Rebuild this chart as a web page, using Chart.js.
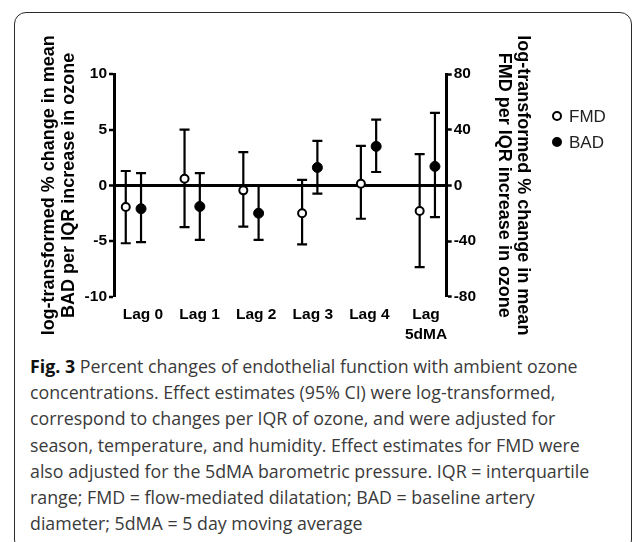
<!DOCTYPE html>
<html>
<head>
<meta charset="utf-8">
<script src="https://cdn.jsdelivr.net/npm/chart.js@4.4.1/dist/chart.umd.min.js"></script>
<style>
    html, body { margin: 0; padding: 0; background: #fff; }
    body { width: 635px; height: 542px; position: relative; overflow: hidden; }
    .frame {
        position: absolute; left: 14px; top: 12px; width: 618px; height: 540px;
        border: 1.5px solid #2a2a2a; border-radius: 12px; box-sizing: border-box;
    }
    #chart { position: absolute; left: 0; top: 0; }
    .legend { position: absolute; left: 552px; top: 104px; font: 17px "Liberation Sans", Arial, sans-serif; color: #222; }
    .legend div { height: 26px; line-height: 26px; white-space: nowrap; }
    .legend span.dot {
        display: inline-block; width: 6px; height: 6px; border-radius: 50%;
        border: 2px solid #000; margin-right: 7px; vertical-align: middle; position: relative; top: -2px;
    }
    .caption {
        position: absolute; left: 30px; top: 353px; width: 600px;
        font: 17.8px "Open Sans", sans-serif; line-height: 26.2px; color: #3a3a3a; white-space: nowrap;
    }
    .caption b { color: #111; }
</style>
</head>
<body>
<div class="frame"></div>
<canvas id="chart" width="635" height="345"></canvas>
<div class="legend" id="legend"></div>
<div class="caption">
    <b>Fig. 3</b> Percent changes of endothelial function with ambient ozone<br>
    concentrations. Effect estimates (95% CI) were log-transformed,<br>
    correspond to changes per IQR of ozone, and were adjusted for<br>
    season, temperature, and humidity. Effect estimates for FMD were<br>
    also adjusted for the 5dMA barometric pressure. IQR = interquartile<br>
    range; FMD = flow-mediated dilatation; BAD = baseline artery<br>
    diameter; 5dMA = 5 day moving average
</div>
<script>
// 数据
const lagLabels = ['Lag 0', 'Lag 1', 'Lag 2', 'Lag 3', 'Lag 4', ['Lag', '5dMA']];

// FMD (right axis, %)
const fmdEstimate = [-15.6, 4.8, -3.6, -20, 1.2, -18.4];
const fmdUpper = [10.3, 40, 23.8, 4, 28.3, 22.4];
const fmdLower = [-41.6, -30, -29.6, -42.4, -24, -58.8];

// BAD (left axis, %)
const badEstimate = [-2.1, -1.9, -2.5, 1.6, 3.5, 1.7];
const badUpper = [1.1, 1.1, 0, 4.0, 5.9, 6.5];
const badLower = [-5.1, -4.9, -4.9, -0.75, 1.2, -2.85];

const leftTicks = [-10, -5, 0, 5, 10];
const rightTicks = [-80, -40, 0, 40, 80];

const pairOffset = 0.13;
const FONT = '"Liberation Sans", Arial, sans-serif';

function toPoints(values, shift) {
    return values.map((v, i) => ({ x: i + shift, y: v }));
}

// 误差线插件
const errorBars = {
    id: 'errorBars',
    beforeDatasetsDraw(chart) {
        const ctx = chart.ctx;
        const xs = chart.scales.x;
        const cap = 5;
        chart.data.datasets.forEach(ds => {
            const ys = chart.scales[ds.yAxisID];
            ctx.save();
            ctx.strokeStyle = '#000';
            ctx.lineWidth = 2.2;
            ds.data.forEach((p, j) => {
                const px = xs.getPixelForValue(p.x);
                const top = ys.getPixelForValue(ds.upper[j]);
                const bot = ys.getPixelForValue(ds.lower[j]);
                ctx.beginPath();
                ctx.moveTo(px, top); ctx.lineTo(px, bot);
                ctx.moveTo(px - cap, top); ctx.lineTo(px + cap, top);
                ctx.moveTo(px - cap, bot); ctx.lineTo(px + cap, bot);
                ctx.stroke();
            });
            ctx.restore();
        });
    }
};

const tickFont = { family: FONT, size: 15.5, weight: 'bold', lineHeight: 1.29 };
const titleFont = { family: FONT, size: 18, weight: 'bold', lineHeight: 1.08 };

const chart = new Chart(document.getElementById('chart'), {
    type: 'scatter',
    data: {
        datasets: [{
            label: 'FMD',
            data: toPoints(fmdEstimate, -pairOffset),
            upper: fmdUpper,
            lower: fmdLower,
            yAxisID: 'y2',
            pointRadius: 4,
            pointBorderWidth: 2,
            pointBackgroundColor: '#fff',
            pointBorderColor: '#000'
        }, {
            label: 'BAD',
            data: toPoints(badEstimate, pairOffset),
            upper: badUpper,
            lower: badLower,
            yAxisID: 'y',
            pointRadius: 5,
            pointBorderWidth: 1,
            pointBackgroundColor: '#000',
            pointBorderColor: '#000'
        }]
    },
    options: {
        responsive: false,
        animation: false,
        events: [],
        layout: { padding: { left: 0, right: 102.3, top: 74, bottom: 0 } },
        plugins: { legend: { display: false }, tooltip: { enabled: false } },
        scales: {
            x: {
                type: 'linear', display: false, min: -0.33, max: 5.33
            },
            xl: {
                type: 'linear', position: 'bottom', min: -0.512, max: 5.366,
                afterBuildTicks: s => { s.ticks = lagLabels.map((l, i) => ({ value: i })); },
                afterFit: s => { s.height = 48.3; },
                grid: { display: false, drawTicks: false },
                border: { display: false },
                ticks: {
                    padding: 8.3, color: '#000', font: tickFont, maxRotation: 0, autoSkip: false,
                    callback: (v, i) => lagLabels[i]
                }
            },
            y: {
                position: 'left', min: -10, max: 10,
                afterBuildTicks: s => { s.ticks = leftTicks.map(v => ({ value: v })); },
                afterFit: s => { s.width = 114; },
                border: { display: true, color: '#000', width: 3 },
                grid: {
                    drawTicks: true, tickLength: 5, tickWidth: 2.5, tickColor: '#000',
                    color: c => (c.tick && c.tick.value === 0) ? '#000' : 'rgba(0,0,0,0)',
                    lineWidth: c => (c.tick && c.tick.value === 0) ? 3 : 0
                },
                ticks: { padding: 2, color: '#000', font: tickFont, callback: v => String(v) },
                title: {
                    display: true, color: '#000', font: titleFont, padding: { top: 39.8, bottom: 0 },
                    text: ['log-transformed % change in mean', 'BAD per IQR increase in ozone']
                }
            },
            y2: {
                position: 'right', min: -80, max: 80,
                afterBuildTicks: s => { s.ticks = rightTicks.map(v => ({ value: v })); },
                afterFit: s => { s.width = 86; },
                border: { display: true, color: '#000', width: 3 },
                grid: {
                    drawOnChartArea: false, drawTicks: true, tickLength: 5, tickWidth: 2.5,
                    tickColor: '#000', color: '#000'
                },
                ticks: { padding: 2, color: '#000', font: tickFont, callback: v => String(v) },
                title: {
                    display: true, color: '#000', font: titleFont, padding: { top: 0, bottom: 0 },
                    text: ['log-transformed % change in mean', 'FMD per IQR increase in ozone']
                }
            }
        }
    },
    plugins: [errorBars]
});

// 图例
const legend = document.getElementById('legend');
chart.data.datasets.forEach(ds => {
    const row = document.createElement('div');
    const dot = document.createElement('span');
    dot.className = 'dot';
    dot.style.background = ds.pointBackgroundColor;
    row.appendChild(dot);
    row.appendChild(document.createTextNode(ds.label));
    legend.appendChild(row);
});
</script>
</body>
</html>
